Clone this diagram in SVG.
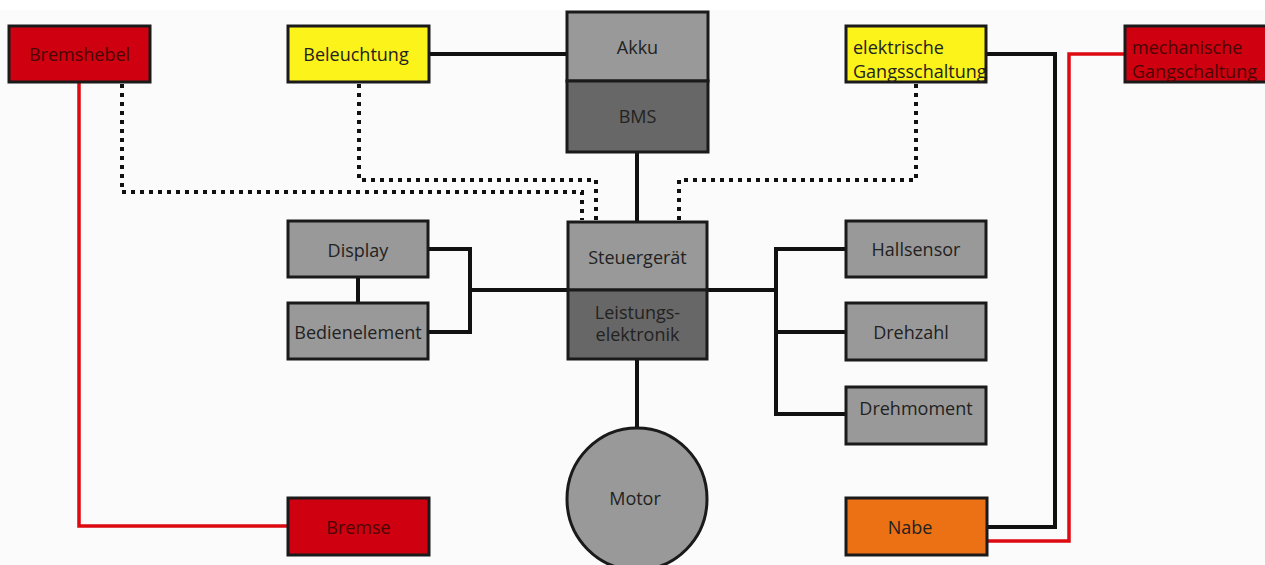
<svg xmlns="http://www.w3.org/2000/svg" width="1265" height="565" viewBox="0 0 1265 565">
  <style>
    .box { stroke: #1a1a1a; stroke-width: 3; }
    .grey { fill: #999999; }
    .dark { fill: #676767; }
    .red { fill: #cf000f; }
    .yellow { fill: #fbf31a; }
    .orange { fill: #ec7014; }
    text { font-family: "Open Sans", "Liberation Sans", sans-serif; font-size: 18px; fill: #222; }
    .c { text-anchor: middle; }
    .onred { fill: #4a0606; }
    .wire { fill: none; stroke: #111; stroke-width: 4; }
    .cable { fill: none; stroke: #dd0a12; stroke-width: 3.5; }
    .bus { fill: none; stroke: #111; stroke-width: 4; stroke-dasharray: 4 5; }
  </style>
  <defs>
    <clipPath id="egs-clip">
      <rect x="846" y="26" width="139" height="56"/>
    </clipPath>
  </defs>

  <rect x="0" y="0" width="1265" height="565" fill="#fbfbfb"/>
  <rect x="0" y="0" width="1265" height="10" fill="#ffffff"/>

  <!-- connectors -->
  <g id="connectors">
    <!-- mechanical brake cable -->
    <polyline class="cable" points="79,82 79,526 288,526"/>
    <!-- mechanical shift cable -->
    <polyline class="cable" points="1125,54 1069,54 1069,541 987,541"/>
    <!-- electrical lines -->
    <line class="wire" x1="429" y1="54" x2="567" y2="54"/>
    <polyline class="wire" points="986,54 1055,54 1055,527 987,527"/>
    <line class="wire" x1="637" y1="152" x2="637" y2="222"/>
    <line class="wire" x1="637" y1="359" x2="637" y2="428"/>
    <line class="wire" x1="358" y1="277" x2="358" y2="303"/>
    <polyline class="wire" points="428,249 470,249 470,332 428,332"/>
    <line class="wire" x1="470" y1="290" x2="568" y2="290"/>
    <line class="wire" x1="707" y1="290" x2="776" y2="290"/>
    <polyline class="wire" points="846,249 776,249 776,414 846,414"/>
    <line class="wire" x1="776" y1="332" x2="846" y2="332"/>
    <!-- signal lines -->
    <polyline class="bus" points="122,84 122,192 582,192 582,220"/>
    <polyline class="bus" points="359,84 359,180 596,180 596,220"/>
    <polyline class="bus" points="916,84 916,180 679,180 679,220"/>
  </g>

  <g id="bremshebel">
    <rect class="box red" x="9" y="26" width="141" height="56"/>
    <text class="c onred" x="79.5" y="61">Bremshebel</text>
  </g>
  <g id="beleuchtung">
    <rect class="box yellow" x="288" y="26" width="141" height="56"/>
    <text class="c" x="356" y="61">Beleuchtung</text>
  </g>
  <g id="akku">
    <rect class="box grey" x="567" y="12" width="141" height="69"/>
    <text class="c" x="637.5" y="54">Akku</text>
  </g>
  <g id="bms">
    <rect class="box dark" x="567" y="81" width="141" height="71"/>
    <text class="c" x="637.5" y="123">BMS</text>
  </g>
  <g id="elektrische-gangschaltung">
    <rect class="box yellow" x="846" y="26" width="140" height="56"/>
    <g clip-path="url(#egs-clip)">
      <text x="853" y="54">elektrische</text>
      <text x="853" y="78">Gangsschaltung</text>
    </g>
  </g>
  <g id="mechanische-gangschaltung">
    <rect class="box red" x="1125" y="26" width="145" height="56"/>
    <text class="onred" x="1132" y="54">mechanische</text>
    <text class="onred" x="1132" y="78">Gangschaltung</text>
  </g>
  <g id="display">
    <rect class="box grey" x="288" y="221" width="140" height="56"/>
    <text class="c" x="358" y="257">Display</text>
  </g>
  <g id="bedienelement">
    <rect class="box grey" x="288" y="303" width="140" height="56"/>
    <text class="c" x="358" y="339">Bedienelement</text>
  </g>
  <g id="steuergeraet">
    <rect class="box grey" x="568" y="222" width="139" height="68"/>
    <text class="c" x="637.5" y="264">Steuergerät</text>
  </g>
  <g id="leistungselektronik">
    <rect class="box dark" x="568" y="290" width="139" height="69"/>
    <text class="c" x="637.5" y="319">Leistungs-</text>
    <text class="c" x="637.5" y="341">elektronik</text>
  </g>
  <g id="hallsensor">
    <rect class="box grey" x="846" y="221" width="140" height="56"/>
    <text class="c" x="916" y="256">Hallsensor</text>
  </g>
  <g id="drehzahl">
    <rect class="box grey" x="846" y="303" width="140" height="57"/>
    <text class="c" x="911" y="339">Drehzahl</text>
  </g>
  <g id="drehmoment">
    <rect class="box grey" x="846" y="387" width="140" height="57"/>
    <text class="c" x="916" y="415">Drehmoment</text>
  </g>
  <g id="motor">
    <ellipse class="box grey" cx="637" cy="499" rx="70" ry="71"/>
    <text class="c" x="635" y="505">Motor</text>
  </g>
  <g id="bremse">
    <rect class="box red" x="288" y="498" width="141" height="57"/>
    <text class="c onred" x="358.5" y="534">Bremse</text>
  </g>
  <g id="nabe">
    <rect class="box orange" x="846" y="498" width="141" height="57"/>
    <text class="c" x="910" y="534">Nabe</text>
  </g>
</svg>
